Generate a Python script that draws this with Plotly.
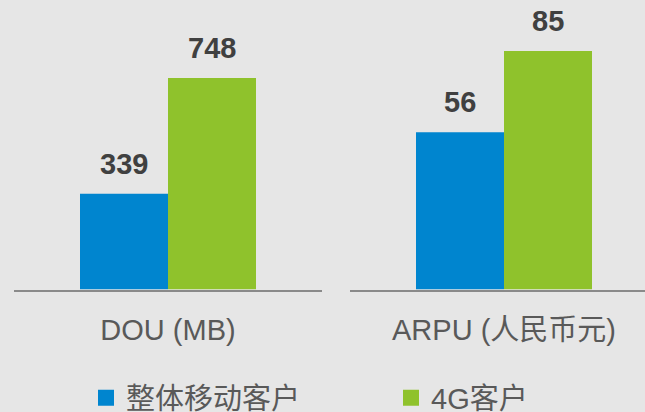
import plotly.graph_objects as go

categories = ["DOU (MB)", "ARPU (人民币元)"]
series_names = ["整体移动客户", "4G客户"]
overall_vals = [339, 56]
g4_vals = [748, 85]
colors = ["#0085CF", "#8FC22C"]

W, H = 645, 412
FONT = "Arial, 'Liberation Sans', 'Noto Sans CJK SC', sans-serif"

fig = go.Figure()
axes = [("x", "y"), ("x2", "y2")]
series = [overall_vals, g4_vals]
shifts = [-44, 44]

for ci, cat in enumerate(categories):
    xa, ya = axes[ci]
    for si, vals in enumerate(series):
        fig.add_trace(go.Bar(
            x=[cat], y=[vals[ci]], name=series_names[si],
            marker=dict(color=colors[si], line=dict(width=0)),
            xaxis=xa, yaxis=ya, showlegend=False, offsetgroup=str(si),
            hoverinfo="skip",
        ))
        fig.add_annotation(
            x=cat, y=vals[ci], xref=xa, yref=ya, text=f"<b>{vals[ci]}</b>",
            showarrow=False, xshift=shifts[si], yanchor="bottom", yshift=12,
            font=dict(family=FONT, size=29, color="#404040"),
        )

# legend entries
for si, name in enumerate(series_names):
    fig.add_trace(go.Scatter(
        x=[None], y=[None], mode="markers", name=name,
        marker=dict(symbol="square", size=18, color=colors[si]),
        xaxis="x", yaxis="y", showlegend=True,
    ))

base_frac = (H - 289.5) / H
left_dom = [14 / W, 322 / W]
right_dom = [350 / W, 1.0]
px_per_unit = 308.0

axis_common = dict(
    type="category", showline=True, linecolor="#8a8a8a", linewidth=2,
    showgrid=False, zeroline=False, ticks="",
    tickfont=dict(family=FONT, size=29, color="#595959"),
    ticklabelstandoff=14, fixedrange=True,
)
fig.update_layout(
    width=W, height=H,
    margin=dict(l=0, r=0, t=0, b=0, autoexpand=False),
    paper_bgcolor="#e6e6e6", plot_bgcolor="#e6e6e6",
    barmode="group", bargap=1 - 176 / 308, bargroupgap=0,
    xaxis=dict(domain=left_dom, range=[-0.5, 0.5], anchor="y", **axis_common),
    xaxis2=dict(domain=right_dom,
                range=[-0.5, -0.5 + (W - 350) / px_per_unit],
                anchor="y2", **axis_common),
    yaxis=dict(domain=[base_frac, 1], range=[0, 748 * 289.5 / 211.5],
               visible=False, fixedrange=True),
    yaxis2=dict(domain=[base_frac, 1], range=[0, 85 * 289.5 / 238.5],
                visible=False, fixedrange=True),
    legend=dict(orientation="h", x=86 / W, xanchor="left",
                y=(H - 398) / H, yanchor="middle",
                font=dict(family=FONT, size=29, color="#595959"),
                bgcolor="rgba(0,0,0,0)", entrywidth=260,
                entrywidthmode="pixels", itemsizing="trace"),
    showlegend=True,
)

fig.write_html(
    "out.html",
    config={"displayModeBar": False},
    post_script="document.body.style.margin='0';document.body.style.overflow='hidden';",
)
